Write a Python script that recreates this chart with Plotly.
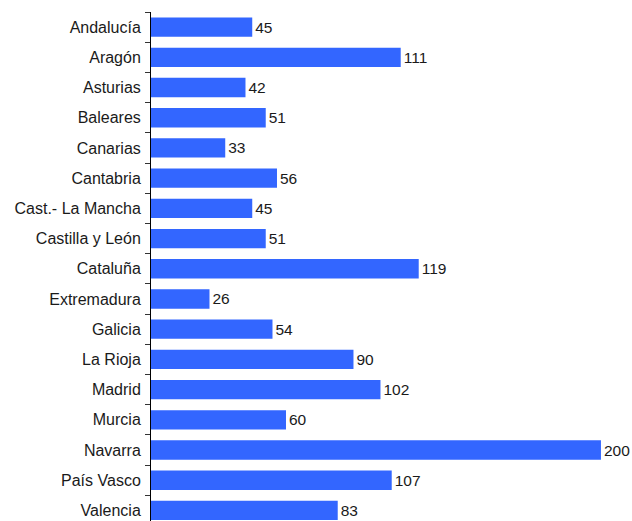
import plotly.graph_objects as go

regions = ["Andalucía", "Aragón", "Asturias", "Baleares", "Canarias", "Cantabria",
           "Cast.- La Mancha", "Castilla y León", "Cataluña", "Extremadura", "Galicia",
           "La Rioja", "Madrid", "Murcia", "Navarra", "País Vasco", "Valencia"]
values = [45, 111, 42, 51, 33, 56, 45, 51, 119, 26, 54, 90, 102, 60, 200, 107, 83]

fig = go.Figure(go.Bar(
    x=values,
    y=regions,
    orientation="h",
    marker=dict(color="#3366FF", line=dict(width=0)),
    text=[str(v) for v in values],
    textposition="outside",
    textfont=dict(family="Liberation Sans, Arial", size=15.5, color="#1a1a1a"),
    cliponaxis=False,
    width=0.64,
))

fig.update_layout(
    width=632,
    height=521,
    margin=dict(l=151, r=0, t=12, b=0),
    paper_bgcolor="white",
    plot_bgcolor="white",
    showlegend=False,
    xaxis=dict(range=[0, 213.8], showgrid=False, zeroline=False, showline=False,
               showticklabels=False, ticks=""),
    yaxis=dict(
        type="category",
        categoryorder="array",
        categoryarray=regions,
        range=[16.35, -0.5],
        showline=True, linecolor="black", linewidth=1,
        ticks="outside", ticklen=5, tickcolor="#333333", tickwidth=1,
        tickson="boundaries",
        showgrid=False, zeroline=False,
        ticklabelstandoff=6,
        tickfont=dict(family="Liberation Sans, Arial", size=16, color="#1a1a1a"),
    ),
)

fig.write_html("out.html")
